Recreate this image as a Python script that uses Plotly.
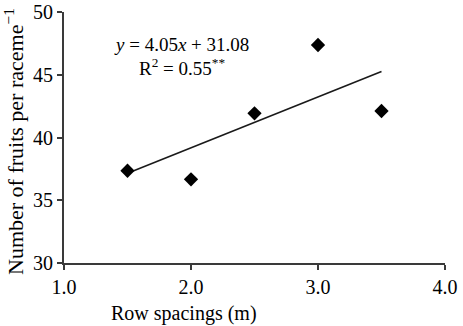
import plotly.graph_objects as go

row_spacing = [1.5, 2.0, 2.5, 3.0, 3.5]
fruits = [37.35, 36.67, 41.93, 47.37, 42.11]
slope = 4.05
intercept = 31.08
x_ticks = [1.0, 2.0, 3.0, 4.0]
x_tick_labels = ["1.0", "2.0", "3.0", "4.0"]
y_ticks = [30, 35, 40, 45, 50]

trend_x = [min(row_spacing), max(row_spacing)]
trend_y = [slope * v + intercept for v in trend_x]

font = "Liberation Serif, Times New Roman, serif"
axcol = "#3a3a3a"

W, H = 463, 326
L, R, T, B = 64, 18, 12, 63
pw, ph = W - L - R, H - T - B


def px(xpix):
    return (xpix - L) / pw


def py(ypix):
    return 1 - (ypix - T) / ph


fig = go.Figure()
fig.add_trace(go.Scatter(x=trend_x, y=trend_y, mode="lines",
                         line=dict(color="#1a1a1a", width=1.6), showlegend=False))
fig.add_trace(go.Scatter(x=row_spacing, y=fruits, mode="markers",
                         marker=dict(symbol="diamond", size=11, color="black"),
                         showlegend=False))

txtfont = dict(family=font, size=19, color="black")
fig.add_annotation(x=px(181), y=py(44), xref="paper", yref="paper",
                   xanchor="center", yanchor="middle",
                   text="<i>y</i> = 4.05<i>x</i> + 31.08", showarrow=False, font=txtfont)
fig.add_annotation(x=px(182), y=py(67), xref="paper", yref="paper",
                   xanchor="center", yanchor="middle",
                   text="R<sup>2</sup> = 0.55<sup>**</sup>", showarrow=False, font=txtfont)
# axis titles
fig.add_annotation(x=px(184), y=py(313), xref="paper", yref="paper",
                   xanchor="center", yanchor="middle",
                   text="Row spacings (m)", showarrow=False,
                   font=dict(family=font, size=20, color="black"))
fig.add_annotation(x=px(14), y=py(142), xref="paper", yref="paper",
                   xanchor="center", yanchor="middle", textangle=-90,
                   text="Number of fruits per raceme<sup>−1</sup>", showarrow=False,
                   font=dict(family=font, size=22, color="black"))

fig.update_layout(
    width=W, height=H,
    margin=dict(l=L, r=R, t=T, b=B),
    paper_bgcolor="white", plot_bgcolor="white",
    font=dict(family=font, color="black"),
    xaxis=dict(range=[1.0, 4.0], tickvals=x_ticks, ticktext=x_tick_labels,
               showgrid=False, zeroline=False, showline=True, linecolor=axcol, linewidth=2,
               ticks="outside", ticklen=5, tickcolor=axcol, tickwidth=2, automargin=False,
               tickfont=dict(family=font, size=20, color="black")),
    yaxis=dict(range=[30, 50], tickvals=y_ticks,
               showgrid=False, zeroline=False, showline=True, linecolor=axcol, linewidth=2,
               ticks="outside", ticklen=5, tickcolor=axcol, tickwidth=2, automargin=False,
               tickfont=dict(family=font, size=20, color="black")),
)

fig.write_html("out.html", config={"displayModeBar": False},
               post_script="document.body.style.margin='0';")
